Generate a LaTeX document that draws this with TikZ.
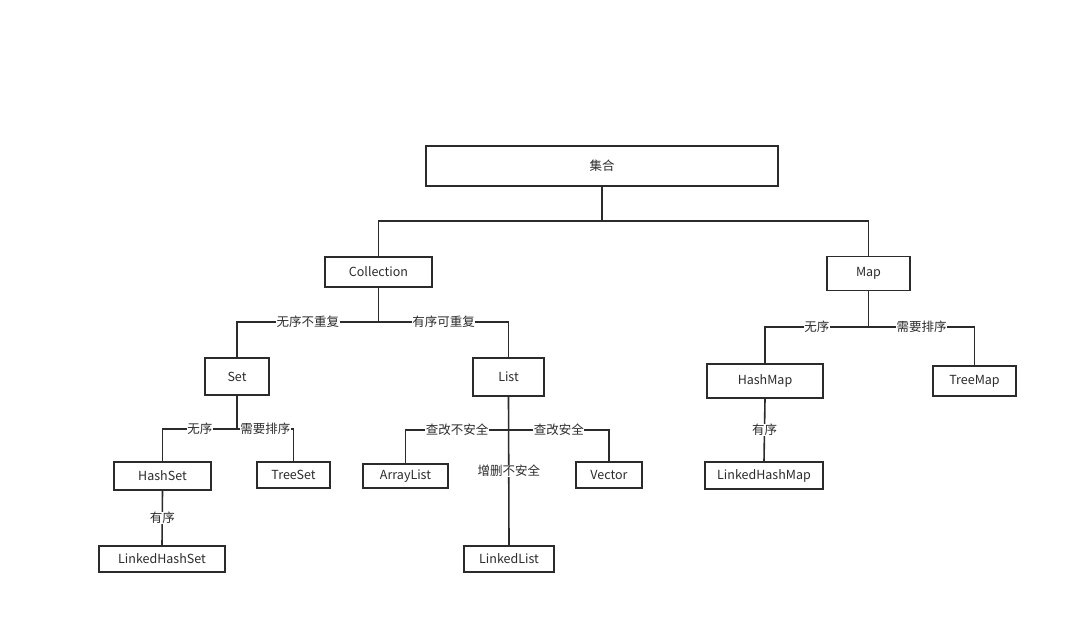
\documentclass[tikz,border=0pt]{standalone}
\usepackage{fontspec}
\setmainfont{Noto Sans CJK SC}
\definecolor{ink}{HTML}{2B2B2B}

\begin{document}
\begin{tikzpicture}[x=1pt,y=-1pt,
  box/.style={draw=ink,line width=1.6pt,text=ink,inner sep=0pt,font=\fontsize{12.5}{15}\selectfont},
  wire/.style={draw=ink,line width=1.6pt},
  lbl/.style={fill=white,text=ink,inner sep=0.6pt,font=\fontsize{12.5}{15}\selectfont}]
\useasboundingbox (0,0) rectangle (1078,632);
% boxes
\node[box,minimum width=352,minimum height=40] (top) at (602,166) {集合};
\node[box,minimum width=107,minimum height=30] (coll) at (378.5,272) {Collection};
\node[box,minimum width=83,minimum height=34] (map) at (868.5,273.5) {Map};
\node[box,minimum width=64,minimum height=37] (set) at (237,376.5) {Set};
\node[box,minimum width=71,minimum height=38] (list) at (508.5,377) {List};
\node[box,minimum width=116,minimum height=34] (hmap) at (765,381) {HashMap};
\node[box,minimum width=83,minimum height=30] (tmap) at (974.5,381) {TreeMap};
\node[box,minimum width=97,minimum height=28] (hset) at (162.5,476) {HashSet};
\node[box,minimum width=73,minimum height=26] (tset) at (293.5,475) {TreeSet};
\node[box,minimum width=126,minimum height=26] (lhset) at (162,559) {LinkedHashSet};
\node[box,minimum width=85,minimum height=24] (alist) at (405.5,476) {ArrayList};
\node[box,minimum width=66,minimum height=26] (vec) at (609,475) {Vector};
\node[box,minimum width=90,minimum height=26] (llist) at (509,559) {LinkedList};
\node[box,minimum width=118,minimum height=27] (lhmap) at (764,475.5) {LinkedHashMap};
% junctions
\coordinate (tj) at (top.south |- 0,221);
\coordinate (cj) at (coll.south |- 0,322);
\coordinate (mj) at (map.south |- 0,327);
\coordinate (sj) at (set.south |- 0,429);
\coordinate (lj) at (list.south |- 0,430);
% connectors
\draw[wire] (top.south) -- (tj);
\draw[wire] (coll.north) |- (tj) -| (map.north);
\draw[wire] (coll.south) -- (cj);
\draw[wire] (cj) -- node[lbl]{无序不重复} (cj -| set.north) -- (set.north);
\draw[wire] (cj) -- node[lbl]{有序可重复} (cj -| list.north) -- (list.north);
\draw[wire] (map.south) -- (mj);
\draw[wire] (mj) -- node[lbl]{无序} (mj -| hmap.north) -- (hmap.north);
\draw[wire] (mj) -- node[lbl]{需要排序} (mj -| tmap.north) -- (tmap.north);
\draw[wire] (set.south) -- (sj);
\draw[wire] (sj) -- node[lbl]{无序} (sj -| hset.north) -- (hset.north);
\draw[wire] (sj) -- node[lbl]{需要排序} (sj -| tset.north) -- (tset.north);
\draw[wire] (hset.south) -- node[lbl]{有序} (lhset.north);
\draw[wire] (list.south) -- node[lbl]{增删不安全} (llist.north);
\draw[wire] (lj) -- node[lbl]{查改不安全} (lj -| alist.north) -- (alist.north);
\draw[wire] (lj) -- node[lbl]{查改安全} (lj -| vec.north) -- (vec.north);
\draw[wire] (hmap.south) -- node[lbl]{有序} (lhmap.north);
\end{tikzpicture}
\end{document}
